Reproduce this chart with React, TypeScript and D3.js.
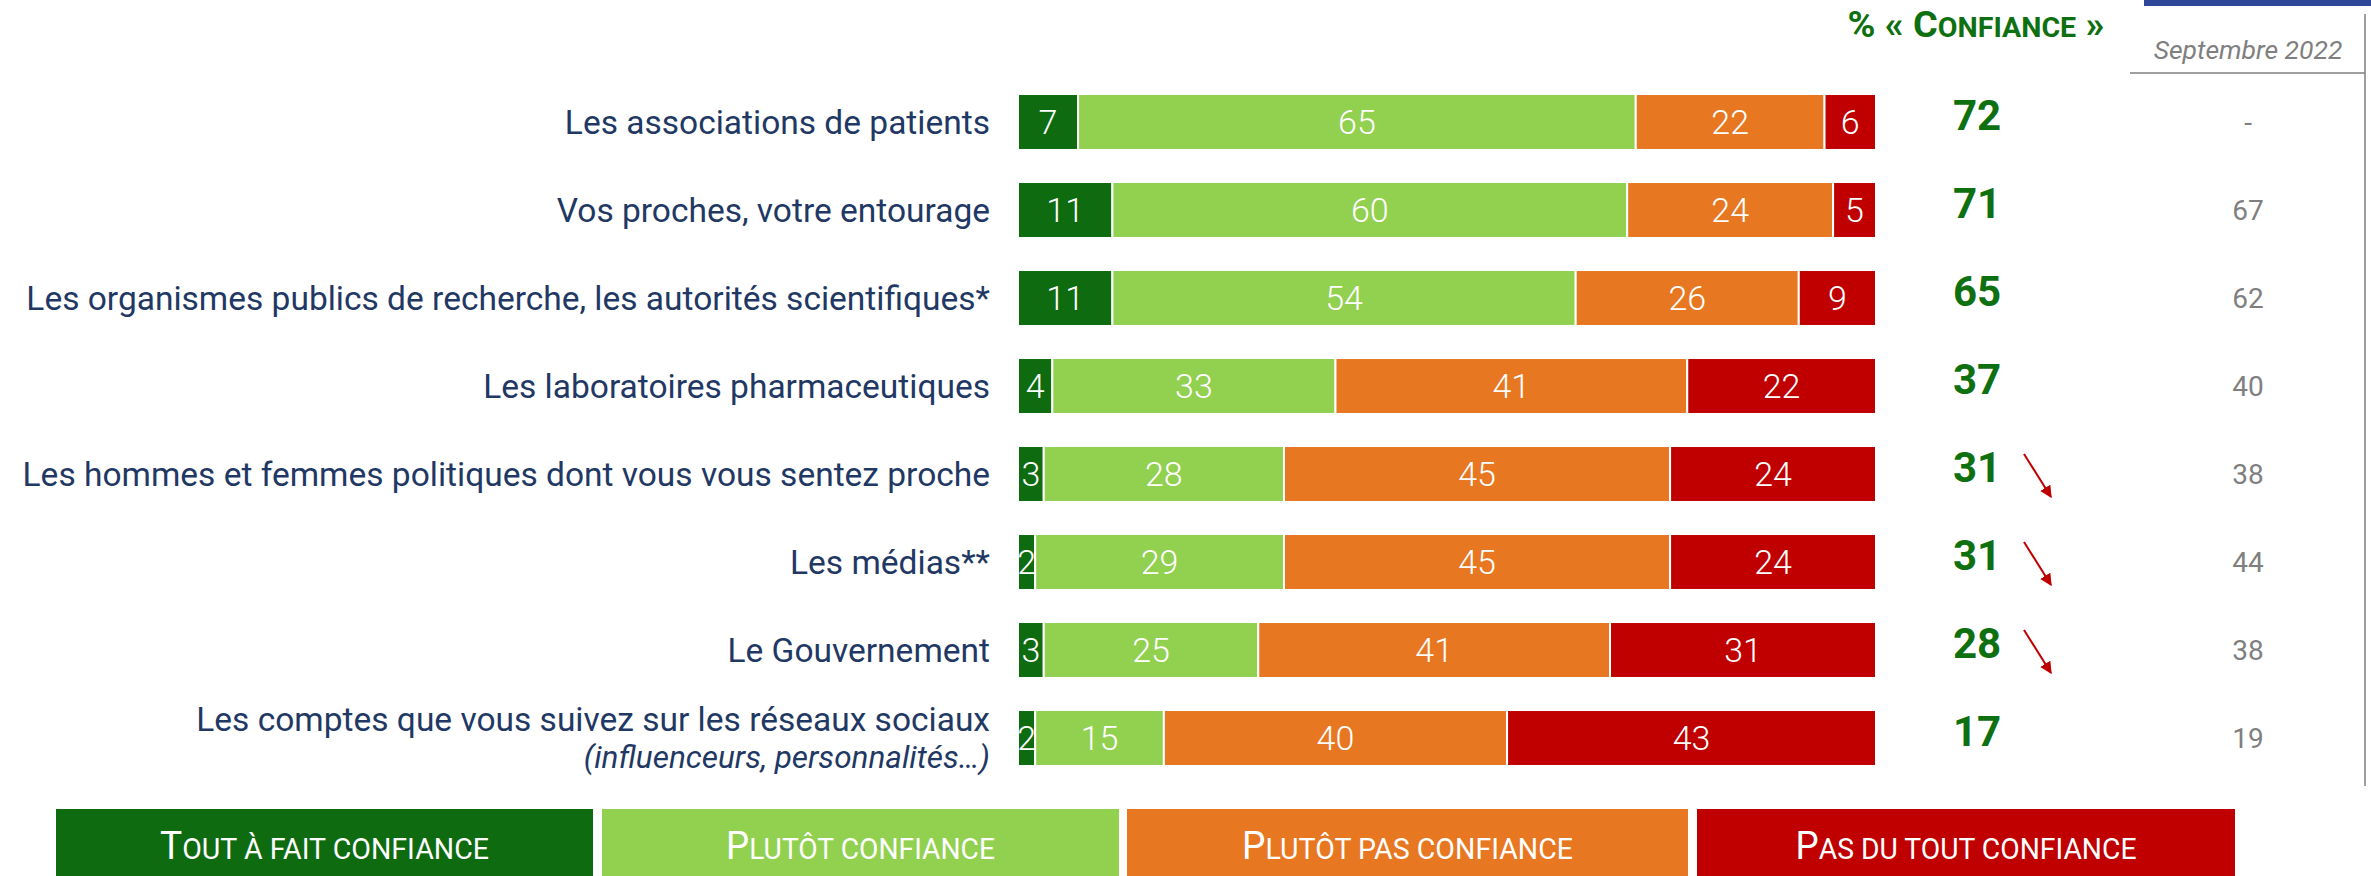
import React, { useEffect, useRef } from 'react';
import * as d3 from 'd3';

// Données
const items = [
  'Les associations de patients',
  'Vos proches, votre entourage',
  'Les organismes publics de recherche, les autorités scientifiques*',
  'Les laboratoires pharmaceutiques',
  'Les hommes et femmes politiques dont vous vous sentez proche',
  'Les médias**',
  'Le Gouvernement',
  'Les comptes que vous suivez sur les réseaux sociaux',
];
const subLabels = ['', '', '', '', '', '', '', '(influenceurs, personnalités…)'];

const categories = ['Tout à fait confiance', 'Plutôt confiance', 'Plutôt pas confiance', 'Pas du tout confiance'];
const toutAFait = [7, 11, 11, 4, 3, 2, 3, 2];
const plutot = [65, 60, 54, 33, 28, 29, 25, 15];
const plutotPas = [22, 24, 26, 41, 45, 45, 41, 40];
const pasDuTout = [6, 5, 9, 22, 24, 24, 31, 43];

const totalConfiance = [72, 71, 65, 37, 31, 31, 28, 17];
const septembre2022 = ['-', '67', '62', '40', '38', '44', '38', '19'];
const enBaisse = [false, false, false, false, true, true, true, false];

const colors = ['#0E6B10', '#92D050', '#E87722', '#C00000'];

const W = 2371;
const H = 876;

const App = () => {
  const svgRef = useRef<SVGSVGElement>(null);

  useEffect(() => {
    const svg = d3.select(svgRef.current);
    svg.selectAll('*').remove();

    const series = [toutAFait, plutot, plutotPas, pasDuTout];
    const rows = items.map((name, i) => ({ name, i, values: series.map((s) => s[i]) }));

    const x = d3.scaleLinear().domain([0, 100]).range([1018, 1876]);
    const y = d3
      .scaleBand<string>()
      .domain(items)
      .range([78, 782])
      .paddingInner(0.364)
      .paddingOuter(0.182);
    const bw = y.bandwidth();

    const font = 'Roboto, "DejaVu Sans", sans-serif';

    // arrow marker
    svg
      .append('defs')
      .append('marker')
      .attr('id', 'arrowhead')
      .attr('viewBox', '0 0 10 10')
      .attr('refX', 9)
      .attr('refY', 5)
      .attr('markerWidth', 6)
      .attr('markerHeight', 6)
      .attr('markerUnits', 'strokeWidth')
      .attr('orient', 'auto')
      .append('path')
      .attr('d', 'M0,0 L10,5 L0,10 Z')
      .attr('fill', '#C00000');

    // row labels
    const labels = svg.append('g').attr('font-family', font).attr('fill', '#1F3864').attr('text-anchor', 'end');
    rows.forEach((r) => {
      const cy = y(r.name)! + bw / 2;
      if (subLabels[r.i]) {
        labels.append('text').attr('x', 990).attr('y', cy - 19).attr('dy', '0.35em').attr('font-size', 33.5).text(r.name);
        labels
          .append('text')
          .attr('x', 990)
          .attr('y', cy + 19)
          .attr('dy', '0.35em')
          .attr('font-size', 31.5)
          .attr('font-style', 'italic')
          .text(subLabels[r.i]);
      } else {
        labels.append('text').attr('x', 990).attr('y', cy).attr('dy', '0.35em').attr('font-size', 33.5).text(r.name);
      }
    });

    // stacked bars
    const stack = d3
      .stack<any>()
      .keys(categories)
      .value((d, key) => d.values[categories.indexOf(key)]);
    const stacked = stack(rows);

    const layer = svg
      .append('g')
      .selectAll('g')
      .data(stacked)
      .join('g')
      .attr('fill', (d, k) => colors[k]);

    layer
      .selectAll('rect')
      .data((d) => d)
      .join('rect')
      .attr('x', (d) => x(d[0]))
      .attr('y', (d: any) => y(d.data.name)!)
      .attr('width', (d) => x(d[1]) - x(d[0]))
      .attr('height', bw)
      .attr('stroke', '#fff')
      .attr('stroke-width', 2);

    layer
      .selectAll('text')
      .data((d) => d)
      .join('text')
      .attr('x', (d) => (x(d[0]) + x(d[1])) / 2)
      .attr('y', (d: any) => y(d.data.name)! + bw / 2)
      .attr('dy', '0.36em')
      .attr('text-anchor', 'middle')
      .attr('fill', '#fff')
      .attr('font-family', font)
      .attr('font-weight', 300)
      .attr('font-size', 34)
      .text((d) => d[1] - d[0]);

    // header "% « Confiance »"
    const head = svg
      .append('text')
      .attr('x', 1976)
      .attr('y', 37)
      .attr('text-anchor', 'middle')
      .attr('fill', '#0E7010')
      .attr('font-family', font)
      .attr('font-weight', 'bold')
      .attr('textLength', 257)
      .attr('lengthAdjust', 'spacingAndGlyphs');
    head.append('tspan').attr('font-size', 37).text('%  « C');
    head.append('tspan').attr('font-size', 28).text('ONFIANCE');
    head.append('tspan').attr('font-size', 37).text(' »');

    // totals
    svg
      .append('g')
      .selectAll('text')
      .data(rows)
      .join('text')
      .attr('x', 1977)
      .attr('y', (d) => y(d.name)! + bw / 2)
      .attr('dy', '0.2em')
      .attr('text-anchor', 'middle')
      .attr('fill', '#0E7010')
      .attr('font-family', font)
      .attr('font-weight', 'bold')
      .attr('font-size', 42)
      .text((d) => totalConfiance[d.i]);

    // down arrows
    svg
      .append('g')
      .selectAll('line')
      .data(rows.filter((d) => enBaisse[d.i]))
      .join('line')
      .attr('x1', 2024)
      .attr('y1', (d) => y(d.name)! + bw / 2 - 20)
      .attr('x2', 2051)
      .attr('y2', (d) => y(d.name)! + bw / 2 + 23)
      .attr('stroke', '#C00000')
      .attr('stroke-width', 2)
      .attr('marker-end', 'url(#arrowhead)');

    // previous wave column
    svg.append('rect').attr('x', 2144).attr('y', 0).attr('width', W - 2144).attr('height', 6).attr('fill', '#2E4799');
    svg
      .append('text')
      .attr('x', 2248)
      .attr('y', 50)
      .attr('dy', '0.35em')
      .attr('text-anchor', 'middle')
      .attr('fill', '#7F7F7F')
      .attr('font-family', font)
      .attr('font-style', 'italic')
      .attr('font-size', 26.5)
      .text('Septembre 2022');
    svg.append('line').attr('x1', 2130).attr('x2', 2365).attr('y1', 73).attr('y2', 73).attr('stroke', '#7F7F7F').attr('stroke-width', 1.5);
    svg.append('line').attr('x1', 2365).attr('x2', 2365).attr('y1', 14).attr('y2', 786).attr('stroke', '#7F7F7F').attr('stroke-width', 1.5);

    svg
      .append('g')
      .selectAll('text')
      .data(rows)
      .join('text')
      .attr('x', 2248)
      .attr('y', (d) => y(d.name)! + bw / 2)
      .attr('dy', '0.35em')
      .attr('text-anchor', 'middle')
      .attr('fill', '#7F7F7F')
      .attr('font-family', font)
      .attr('font-size', 28)
      .text((d) => septembre2022[d.i]);

    // legend
    const legendBoxes = [
      [56, 593, 329],
      [602, 1119, 269],
      [1127, 1688, 331],
      [1697, 2235, 341],
    ];
    const lg = svg.append('g');
    categories.forEach((c, k) => {
      const [x0, x1, tw] = legendBoxes[k];
      lg.append('rect').attr('x', x0).attr('y', 809).attr('width', x1 - x0).attr('height', H - 809).attr('fill', colors[k]);
      const t = lg
        .append('text')
        .attr('x', (x0 + x1) / 2)
        .attr('y', 859)
        .attr('text-anchor', 'middle')
        .attr('fill', '#fff')
        .attr('font-family', font)
        .attr('textLength', tw)
        .attr('lengthAdjust', 'spacingAndGlyphs');
      t.append('tspan').attr('font-size', 39).text(c.charAt(0).toUpperCase());
      t.append('tspan').attr('font-size', 30).text(c.slice(1).toUpperCase());
    });
  }, []);

  return (
    <div style={{ position: 'absolute', left: 0, top: 0 }}>
      <svg ref={svgRef} width={W} height={H} style={{ display: 'block', background: '#fff' }} />
    </div>
  );
};

export default App;
